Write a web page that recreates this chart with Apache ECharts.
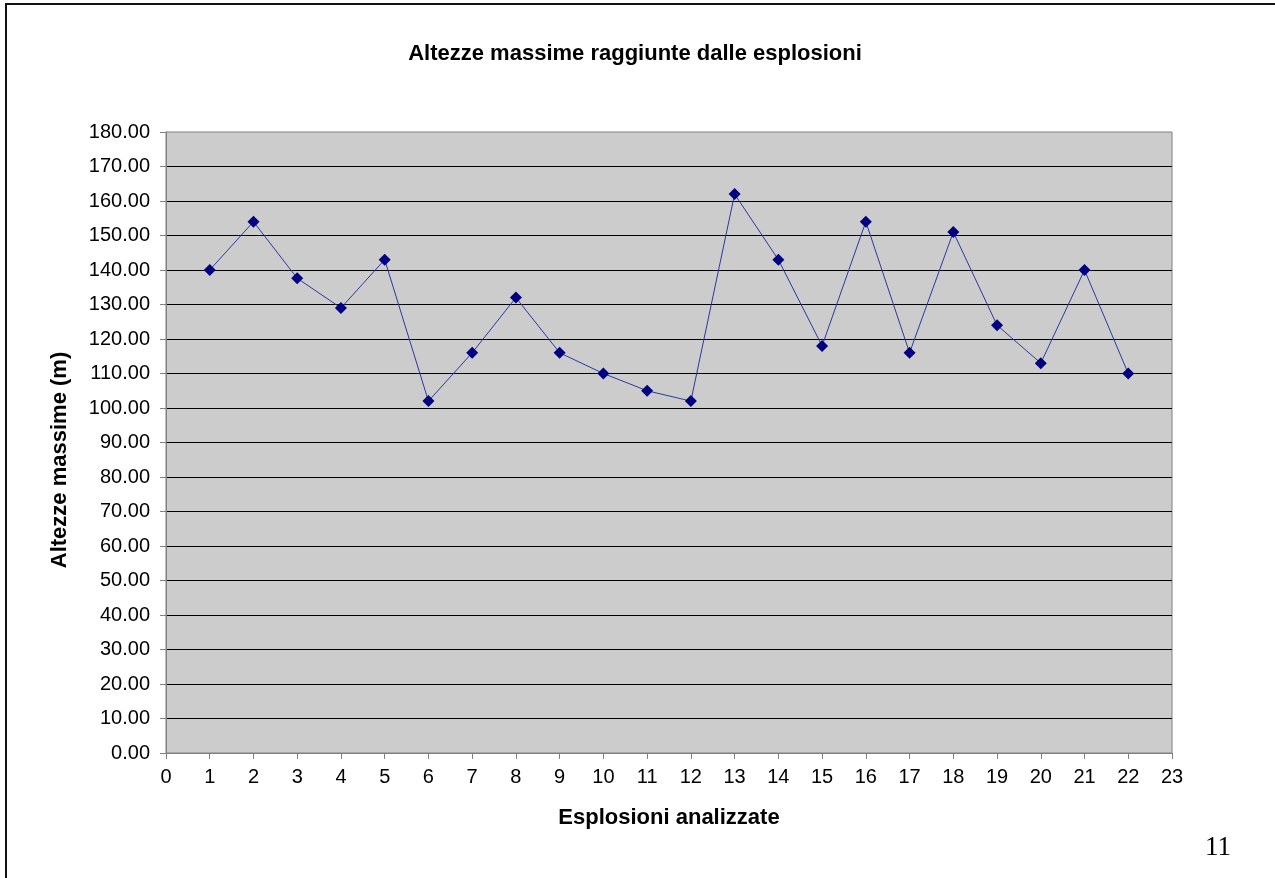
<!DOCTYPE html>
<html>
<head>
<meta charset="utf-8">
<title>Altezze massime</title>
<script src="https://cdn.jsdelivr.net/npm/echarts@6/dist/echarts.min.js"></script>
<style>
  html, body { margin: 0; padding: 0; background: #fff; }
  #chart { width: 1275px; height: 878px; }
</style>
</head>
<body>
<div id="chart"></div>
<script>
// esplosioni 1..22 e altezze massime (m)
var esplosioni = [1, 2, 3, 4, 5, 6, 7, 8, 9, 10, 11, 12, 13, 14, 15, 16, 17, 18, 19, 20, 21, 22];
var altezze = [140, 154, 137.6, 129, 143, 102, 116, 132, 116, 110, 105, 102, 162, 143, 118, 154, 116, 151, 124, 113, 140, 110];

var chart = echarts.init(document.getElementById("chart"));
var font = "Liberation Sans, Arial, sans-serif";

chart.setOption({
  backgroundColor: "#fff",
  animation: false,
  title: {
    text: "Altezze massime raggiunte dalle esplosioni",
    left: 630,
    top: 38,
    textAlign: "center",
    textStyle: { fontFamily: font, fontSize: 22, fontWeight: "bold", color: "#000" }
  },
  grid: {
    left: 166,
    top: 132,
    width: 1006,
    height: 621,
    show: true,
    backgroundColor: "#cccccc",
    borderColor: "#808080",
    borderWidth: 1
  },
  xAxis: {
    type: "value",
    min: 0,
    max: 23,
    interval: 1,
    name: "Esplosioni analizzate",
    nameLocation: "middle",
    nameGap: 54,
    nameTextStyle: { fontFamily: font, fontSize: 22, fontWeight: "bold", color: "#000" },
    axisLine: { show: true, onZero: false, lineStyle: { color: "#808080", width: 1 } },
    axisTick: { show: true, length: 6, lineStyle: { color: "#808080" } },
    axisLabel: { fontFamily: font, fontSize: 20, color: "#000", margin: 14 },
    splitLine: { show: false }
  },
  yAxis: {
    type: "value",
    min: 0,
    max: 180,
    interval: 10,
    axisLine: { show: true, lineStyle: { color: "#808080", width: 1 } },
    axisTick: { show: true, length: 6, lineStyle: { color: "#808080" } },
    axisLabel: {
      fontFamily: font,
      fontSize: 20,
      color: "#000",
      margin: 16,
      formatter: function (v) { return v.toFixed(2); }
    },
    splitLine: {
      show: true,
      showMinLine: false,
      showMaxLine: false,
      lineStyle: { color: "#000", width: 1 }
    }
  },
  graphic: [
    {
      type: "rect",
      shape: { x: 6, y: 4, width: 1400, height: 1000 },
      style: { fill: null, stroke: "#111", lineWidth: 2 },
      z: 100
    },
    {
      type: "text",
      x: 60,
      y: 460,
      rotation: Math.PI / 2,
      style: {
        text: "Altezze massime (m)",
        font: "bold 22px " + font,
        fill: "#000",
        align: "center",
        verticalAlign: "middle"
      }
    },
    {
      type: "text",
      x: 1218,
      y: 848,
      style: {
        text: "11",
        font: "27px Liberation Serif, Times New Roman, serif",
        fill: "#000",
        align: "center",
        verticalAlign: "middle"
      }
    }
  ],
  series: [
    {
      type: "line",
      data: esplosioni.map(function (x, i) { return [x, altezze[i]]; }),
      symbol: "diamond",
      symbolSize: 12,
      itemStyle: { color: "#000080" },
      lineStyle: { color: "#2a3aa0", width: 1 }
    }
  ]
});
</script>
</body>
</html>
